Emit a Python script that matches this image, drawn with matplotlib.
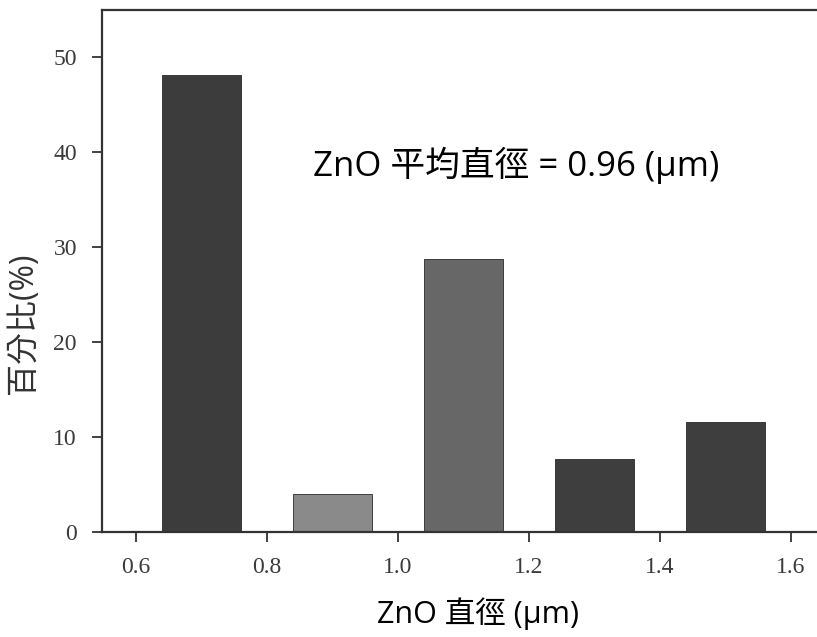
import numpy as np
import matplotlib.pyplot as plt

# data
diameters = [0.7, 0.9, 1.1, 1.3, 1.5]
percents = [48.1, 4.0, 28.8, 7.7, 11.6]
bar_colors = ['#3c3c3c', '#8a8a8a', '#676767', '#3e3e3e', '#3e3e3e']
xticks = [0.6, 0.8, 1.0, 1.2, 1.4, 1.6]
yticks = [0, 10, 20, 30, 40, 50]

cjk = ['Open Sans', 'Noto Sans CJK TC']

fig = plt.figure(figsize=(8.17, 6.37), dpi=100)
ax = fig.add_axes([0.1248, 0.1648, 0.8752, 0.8195])

ax.bar(diameters, percents, width=0.12, color=bar_colors,
       edgecolor='#2a2a2a', linewidth=0.6)

ax.set_xlim(0.548, 1.64)
ax.set_ylim(0, 55)
ax.set_xticks(xticks)
ax.set_xticklabels([f'{t:.1f}' for t in xticks])
ax.set_yticks(yticks)

for lab in ax.get_xticklabels() + ax.get_yticklabels():
    lab.set_family('Liberation Serif')
    lab.set_fontsize(17)
    lab.set_color('#3a3a3a')

ax.tick_params(direction='out', length=7, width=1.3, color='#333333', pad=11)
ax.spines['right'].set_visible(False)
for s in ['left', 'bottom', 'top']:
    ax.spines[s].set_linewidth(1.6)
    ax.spines[s].set_color('#333333')

ax.text(0.871, 38.6, 'ZnO 平均直徑 = 0.96 (μm)', family=cjk, fontsize=25,
        ha='left', va='center', color='black')

ax.set_xlabel('ZnO 直徑 (μm)', family=cjk, fontsize=22, labelpad=12)
ax.xaxis.set_label_coords(0.526, -0.125)
ax.set_ylabel('百分比(%)', family=cjk, fontsize=23, color='#333333')
ax.yaxis.set_label_coords(-0.087, 0.40)

plt.savefig('out.png', dpi=100)
